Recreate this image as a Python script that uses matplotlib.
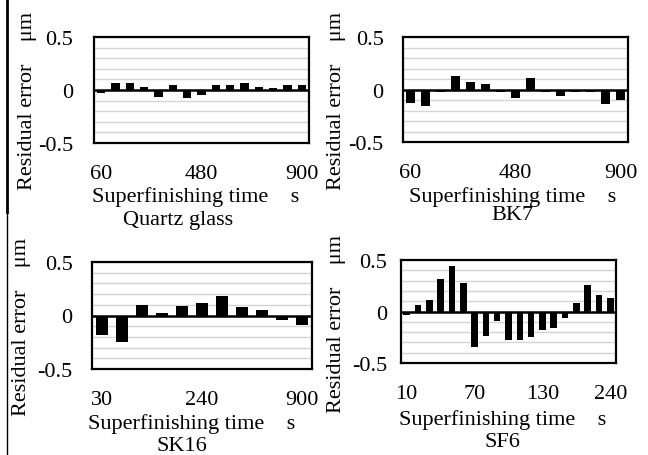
import matplotlib.pyplot as plt
from matplotlib.lines import Line2D

plt.rcParams["font.family"] = ["Liberation Serif", "DejaVu Serif"]

# Residual errors (um)
quartz_err = [-0.03, 0.065, 0.07, 0.03, -0.07, 0.05, -0.075, -0.05,
              0.05, 0.05, 0.065, 0.03, 0.02, 0.05, 0.05]
bk7_err = [-0.13, -0.155, -0.022, 0.13, 0.075, 0.05, -0.022, -0.08,
           0.105, -0.022, -0.06, -0.022, -0.022, -0.135, -0.10]
sk16_err = [-0.18, -0.25, 0.10, 0.025, 0.09, 0.115, 0.185, 0.08, 0.05,
            -0.04, -0.085]
sf6_err = [-0.03, 0.06, 0.11, 0.315, 0.445, 0.28, -0.34, -0.235, -0.095,
           -0.275, -0.28, -0.245, -0.175, -0.16, -0.06, 0.085, 0.255,
           0.165, 0.135]

quartz_ticks = ([0, 7, 14], ["60", "480", "900"])
bk7_ticks = ([0, 7, 14], ["60", "480", "900"])
sk16_ticks = ([0, 5, 10], ["30", "240", "900"])
sf6_ticks = ([0, 6, 12, 18], ["10", "70", "130", "240"])

materials = ["Quartz glass", "BK7", "SK16", "SF6"]

W, H = 648, 456
fig = plt.figure(figsize=(W / 100, H / 100), dpi=100)


def px_box(x0, y0, x1, y1):
    return [x0 / W, 1 - y1 / H, (x1 - x0) / W, (y1 - y0) / H]


def ftext(x, y, s, **kw):
    fig.text(x / W, 1 - y / H, s, **kw)


# data, ticks, box, ytick pad, xtick pad, ylabel x/y, xlabel x/y, title x/y
panels = [
    (quartz_err, quartz_ticks, px_box(94, 38, 309, 144), 15, 15,
     (28, 101), (196, 197), (178, 221)),
    (bk7_err, bk7_ticks, px_box(403, 38, 628, 143), 14, 15,
     (337, 101), (513, 197), (512, 216)),
    (sk16_err, sk16_ticks, px_box(92, 263, 312, 370), 14, 15,
     (22, 327), (192, 424), (182, 447)),
    (sf6_err, sf6_ticks, px_box(401, 261, 616, 364), 10, 15,
     (336, 324), (503, 420), (502, 443)),
]

for (vals, (tpos, tlab), box, ypad, xpad, ylab, xlab, ttl), name in zip(panels, materials):
    ax = fig.add_axes(box)
    x = list(range(len(vals)))
    ax.bar(x, vals, width=0.58, color="black", zorder=3)
    ax.axhline(0, color="black", linewidth=1.8, zorder=4)
    ax.set_xlim(-0.5, len(vals) - 0.5)
    ax.set_ylim(-0.5, 0.5)
    ax.set_yticks([-0.5, 0, 0.5])
    ax.set_yticklabels(["-0.5", "0", "0.5"])
    ax.set_yticks([-0.4, -0.3, -0.2, -0.1, 0.1, 0.2, 0.3, 0.4], minor=True)
    ax.grid(True, which="both", axis="y", color="#d4d4d4", linewidth=1, zorder=0)
    ax.set_xticks(tpos)
    ax.set_xticklabels(tlab)
    ax.tick_params(axis="both", which="both", length=0, labelsize=16)
    ax.tick_params(axis="y", pad=ypad)
    ax.tick_params(axis="x", pad=xpad)
    for sp in ax.spines.values():
        sp.set_linewidth(1.6)
        sp.set_color("black")

    ftext(ylab[0], ylab[1], "Residual error    \u03bcm", rotation=90,
          ha="center", va="center", fontsize=16)
    ftext(xlab[0], xlab[1], "Superfinishing time    s",
          ha="center", va="center", fontsize=16)
    ftext(ttl[0], ttl[1], name, ha="center", va="center", fontsize=16)

# page border on the left
fig.add_artist(Line2D([7 / W, 7 / W], [1, 1 - 213 / H], color="black",
                      linewidth=2, transform=fig.transFigure))
fig.add_artist(Line2D([7 / W, 7 / W], [1 - 213 / H, 0], color="black",
                      linewidth=1, transform=fig.transFigure))

fig.savefig("out.png", dpi=100)
